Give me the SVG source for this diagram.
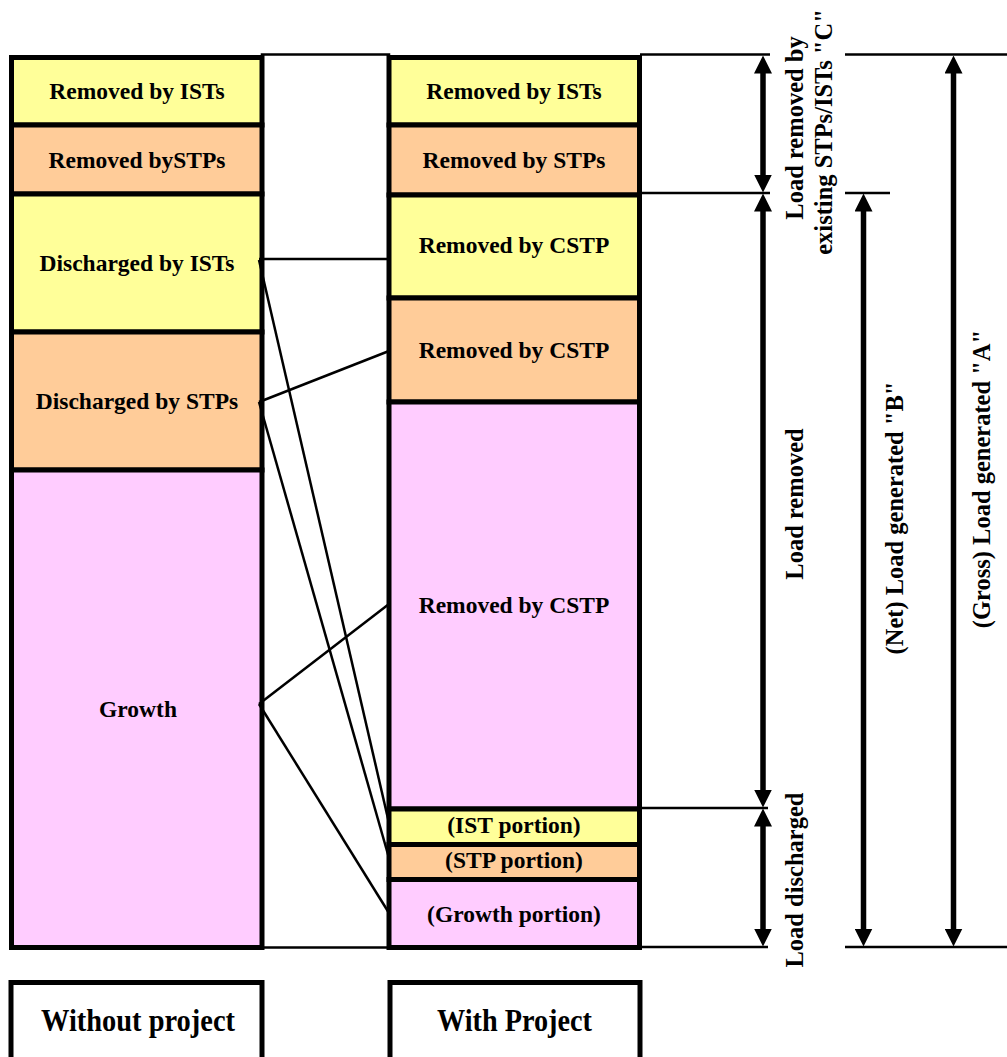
<svg xmlns="http://www.w3.org/2000/svg" width="1007" height="1057" viewBox="0 0 1007 1057">
  <style>
    .box { stroke: #000; stroke-width: 5; }
    .yel { fill: #FFFF99; }
    .org { fill: #FFCC99; }
    .pnk { fill: #FFCCFF; }
    .lbl { font-family: "Liberation Serif", "Times New Roman", serif; font-weight: bold; font-size: 23.5px; fill: #000; text-anchor: middle; }
    .vlbl { font-family: "Liberation Serif", "Times New Roman", serif; font-weight: bold; font-size: 24.5px; fill: #000; text-anchor: middle; }
    .big { font-family: "Liberation Serif", "Times New Roman", serif; font-weight: bold; font-size: 31px; fill: #000; text-anchor: middle; }
    .thin { stroke: #000; stroke-width: 2.5; fill: none; }
    .dim { stroke: #000; stroke-width: 5.5; fill: none; marker-start: url(#head); marker-end: url(#head); }
  </style>
  <defs>
    <marker id="head" markerUnits="userSpaceOnUse" viewBox="0 0 18 18" markerWidth="18" markerHeight="18" refX="0.5" refY="9" orient="auto-start-reverse">
      <path d="M0,0 L18,9 L0,18 z" fill="#000"/>
    </marker>
  </defs>

  <rect width="1007" height="1057" fill="#fff"/>

  <!-- gap between the two columns -->
  <rect id="gap" x="262" y="54.5" width="127" height="893" fill="#fff" stroke="#000" stroke-width="2.5"/>

  <!-- left column: without project -->
  <g id="left-removed-ists">
    <rect class="box yel" x="11.5" y="57.5" width="250.5" height="67.5"/>
    <text class="lbl" x="137" y="99">Removed by ISTs</text>
  </g>
  <g id="left-removed-stps">
    <rect class="box org" x="11.5" y="125" width="250.5" height="69"/>
    <text class="lbl" x="137" y="168">Removed bySTPs</text>
  </g>
  <g id="left-discharged-ists">
    <rect class="box yel" x="11.5" y="194" width="250.5" height="138"/>
    <text class="lbl" x="137" y="271">Discharged by ISTs</text>
  </g>
  <g id="left-discharged-stps">
    <rect class="box org" x="11.5" y="332" width="250.5" height="138"/>
    <text class="lbl" x="137" y="409">Discharged by STPs</text>
  </g>
  <g id="left-growth">
    <rect class="box pnk" x="11.5" y="470" width="250.5" height="477.5"/>
    <text class="lbl" x="138" y="717">Growth</text>
  </g>

  <!-- right column: with project -->
  <g id="right-removed-ists">
    <rect class="box yel" x="389" y="57.5" width="250.5" height="67.5"/>
    <text class="lbl" x="514" y="99">Removed by ISTs</text>
  </g>
  <g id="right-removed-stps">
    <rect class="box org" x="389" y="125" width="250.5" height="70"/>
    <text class="lbl" x="514" y="168">Removed by STPs</text>
  </g>
  <g id="right-cstp-ist">
    <rect class="box yel" x="389" y="195" width="250.5" height="103"/>
    <text class="lbl" x="514" y="253">Removed by CSTP</text>
  </g>
  <g id="right-cstp-stp">
    <rect class="box org" x="389" y="298" width="250.5" height="104"/>
    <text class="lbl" x="514" y="358">Removed by CSTP</text>
  </g>
  <g id="right-cstp-growth">
    <rect class="box pnk" x="389" y="402" width="250.5" height="407"/>
    <text class="lbl" x="514" y="613">Removed by CSTP</text>
  </g>
  <g id="right-ist-portion">
    <rect class="box yel" x="389" y="809" width="250.5" height="35.5"/>
    <text class="lbl" x="514" y="833">(IST portion)</text>
  </g>
  <g id="right-stp-portion">
    <rect class="box org" x="389" y="844.5" width="250.5" height="35"/>
    <text class="lbl" x="514" y="868">(STP portion)</text>
  </g>
  <g id="right-growth-portion">
    <rect class="box pnk" x="389" y="879.5" width="250.5" height="68"/>
    <text class="lbl" x="514" y="922">(Growth portion)</text>
  </g>

  <!-- column captions -->
  <g id="caption-without">
    <rect class="box" x="11" y="982.5" width="251" height="100" fill="#fff"/>
    <text class="big" x="138" y="1031" textLength="194" lengthAdjust="spacingAndGlyphs">Without project</text>
  </g>
  <g id="caption-with">
    <rect class="box" x="390" y="982.5" width="250" height="100" fill="#fff"/>
    <text class="big" x="514.5" y="1031" textLength="155" lengthAdjust="spacingAndGlyphs">With Project</text>
  </g>

  <!-- connectors between the columns -->
  <g id="connectors">
    <line class="thin" x1="259" y1="259" x2="389" y2="259"/>
    <line class="thin" x1="259" y1="260" x2="389" y2="823"/>
    <line class="thin" x1="259" y1="402" x2="389" y2="351"/>
    <line class="thin" x1="259" y1="402" x2="389" y2="858"/>
    <line class="thin" x1="259" y1="704" x2="389" y2="604"/>
    <line class="thin" x1="259" y1="704" x2="389" y2="913"/>
  </g>

  <!-- extension lines for the dimension arrows -->
  <g id="extension-lines">
    <line class="thin" x1="640" y1="54.5" x2="770" y2="54.5"/>
    <line class="thin" x1="845" y1="54.5" x2="1007" y2="54.5"/>
    <line class="thin" x1="640" y1="193" x2="770" y2="193"/>
    <line class="thin" x1="845" y1="193" x2="890" y2="193"/>
    <line class="thin" x1="640" y1="808" x2="768" y2="808"/>
    <line class="thin" x1="640" y1="947" x2="768" y2="947"/>
    <line class="thin" x1="845" y1="947" x2="1007" y2="947"/>
  </g>

  <!-- dimension arrows -->
  <g id="dim-c">
    <line class="dim" x1="763" y1="73" x2="763" y2="175"/>
    <text class="vlbl" transform="translate(803,128) rotate(-90)">Load removed by</text>
    <text class="vlbl" transform="translate(832,132) rotate(-90)">existing STPs/ISTs "C"</text>
  </g>
  <g id="dim-removed">
    <line class="dim" x1="763" y1="211" x2="763" y2="790"/>
    <text class="vlbl" transform="translate(803,504) rotate(-90)">Load removed</text>
  </g>
  <g id="dim-discharged">
    <line class="dim" x1="763" y1="826" x2="763" y2="929"/>
    <text class="vlbl" transform="translate(803,880) rotate(-90)">Load discharged</text>
  </g>
  <g id="dim-b">
    <line class="dim" x1="863.5" y1="211" x2="863.5" y2="929"/>
    <text class="vlbl" transform="translate(903,518) rotate(-90)">(Net) Load generated "B"</text>
  </g>
  <g id="dim-a">
    <line class="dim" x1="953.5" y1="73" x2="953.5" y2="929"/>
    <text class="vlbl" transform="translate(990,479) rotate(-90)">(Gross) Load generated "A"</text>
  </g>
</svg>
